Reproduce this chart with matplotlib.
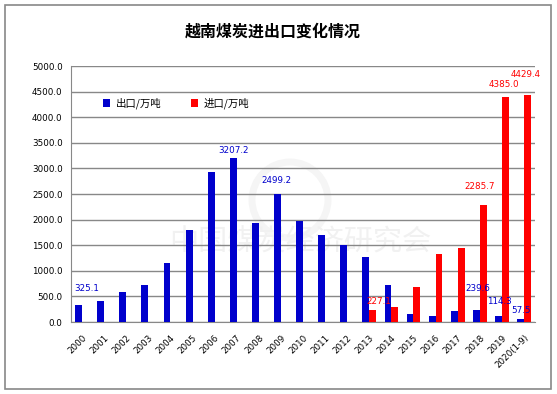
import matplotlib
matplotlib.use('Agg')
from matplotlib import pyplot as plt
from matplotlib.patches import Rectangle, Ellipse
import numpy as np

plt.rcParams['font.family'] = ['Noto Sans CJK SC', 'DejaVu Sans']

years = ['2000', '2001', '2002', '2003', '2004', '2005', '2006', '2007',
         '2008', '2009', '2010', '2011', '2012', '2013', '2014', '2015',
         '2016', '2017', '2018', '2019', '2020(1-9)']
export = [325.1, 410, 592, 729, 1158, 1797, 2930, 3207.2, 1934, 2499.2,
          1973, 1700, 1504, 1275, 729, 163, 117, 215, 239.6, 114.3, 57.5]
imports = [0, 0, 0, 0, 0, 0, 0, 0, 0, 0, 0, 0, 0, 227.1, 293, 690,
           1328, 1445, 2285.7, 4385.0, 4429.4]

# labelled bars: index -> offset in points
export_labels = {0: (6, 9), 7: (0, 2), 9: (-1, 6.5), 18: (1, 12),
                 19: (1, 7), 20: (0, 3)}
import_labels = {13: (4, 3), 18: (-2.5, 10), 19: (-1.3, 6), 20: (-1, 11.5)}

blue = '#0000CC'
red = '#FF0000'

fig = plt.figure(figsize=(5.57, 3.94), dpi=100)
fig.patches.append(Rectangle((5 / 557, 5 / 394), 546 / 557, 384 / 394,
                             transform=fig.transFigure, fill=False,
                             edgecolor='#888888', linewidth=1.2))
ax = fig.add_axes([71 / 557, 72 / 394, 464 / 557, 256 / 394])

x = np.arange(len(years))
w = 0.31
ax.bar(x - w / 2, export, w, color=blue, label='出口/万吨', zorder=3)
ax.bar(x + w / 2, imports, w, color=red, label='进口/万吨', zorder=3)

for i, (dx, dy) in export_labels.items():
    ax.annotate(f'{export[i]:.1f}', xy=(x[i] - w / 2, export[i]),
                xytext=(dx, dy), textcoords='offset points', ha='center',
                va='bottom', color=blue, fontsize=6.3, family='DejaVu Sans',
                zorder=4)
for i, (dx, dy) in import_labels.items():
    ax.annotate(f'{imports[i]:.1f}', xy=(x[i] + w / 2, imports[i]),
                xytext=(dx, dy), textcoords='offset points', ha='center',
                va='bottom', color=red, fontsize=6.3, family='DejaVu Sans',
                zorder=4)

ax.set_xlim(-0.5, len(years) - 0.5)
ax.set_ylim(0, 5000)
ax.set_yticks(np.arange(0, 5001, 500))
ax.set_yticklabels([f'{v:.1f}' for v in np.arange(0, 5001, 500)],
                   fontsize=6.3, family='DejaVu Sans')
ax.set_xticks(x)
ax.set_xticklabels(years, rotation=45, ha='right', rotation_mode='anchor',
                   fontsize=6.3, family='DejaVu Sans')
ax.tick_params(axis='y', length=0, pad=6)
ax.tick_params(axis='x', length=0, pad=8)
ax.grid(axis='y', color='#888888', linewidth=1, zorder=0)
for s in ['top', 'right']:
    ax.spines[s].set_visible(False)
for s in ['left', 'bottom']:
    ax.spines[s].set_color('#888888')

# faint watermark, behind the bars
ax.add_patch(Ellipse((290 / 557, 1 - 200 / 394), 76 / 557, 76 / 394,
                     transform=fig.transFigure, fill=False,
                     edgecolor='#f5f5f5', linewidth=5, zorder=1,
                     clip_on=False))
ax.text(0.495, 0.31, '中国煤炭经济研究会', transform=ax.transAxes,
        ha='center', va='center', fontsize=21, color='#f1f1f1', zorder=1)

ax.legend(loc='upper left', bbox_to_anchor=(0.049, 0.913), ncol=2,
          frameon=False, fontsize=7.5, handlelength=0.67, handleheight=0.67,
          columnspacing=2.8, handletextpad=0.58)

fig.text(273 / 557, 1 - 32 / 394, '越南煤炭进出口变化情况', ha='center',
         va='center', fontsize=11.5, fontweight='bold')

fig.savefig('out.png', dpi=100)
